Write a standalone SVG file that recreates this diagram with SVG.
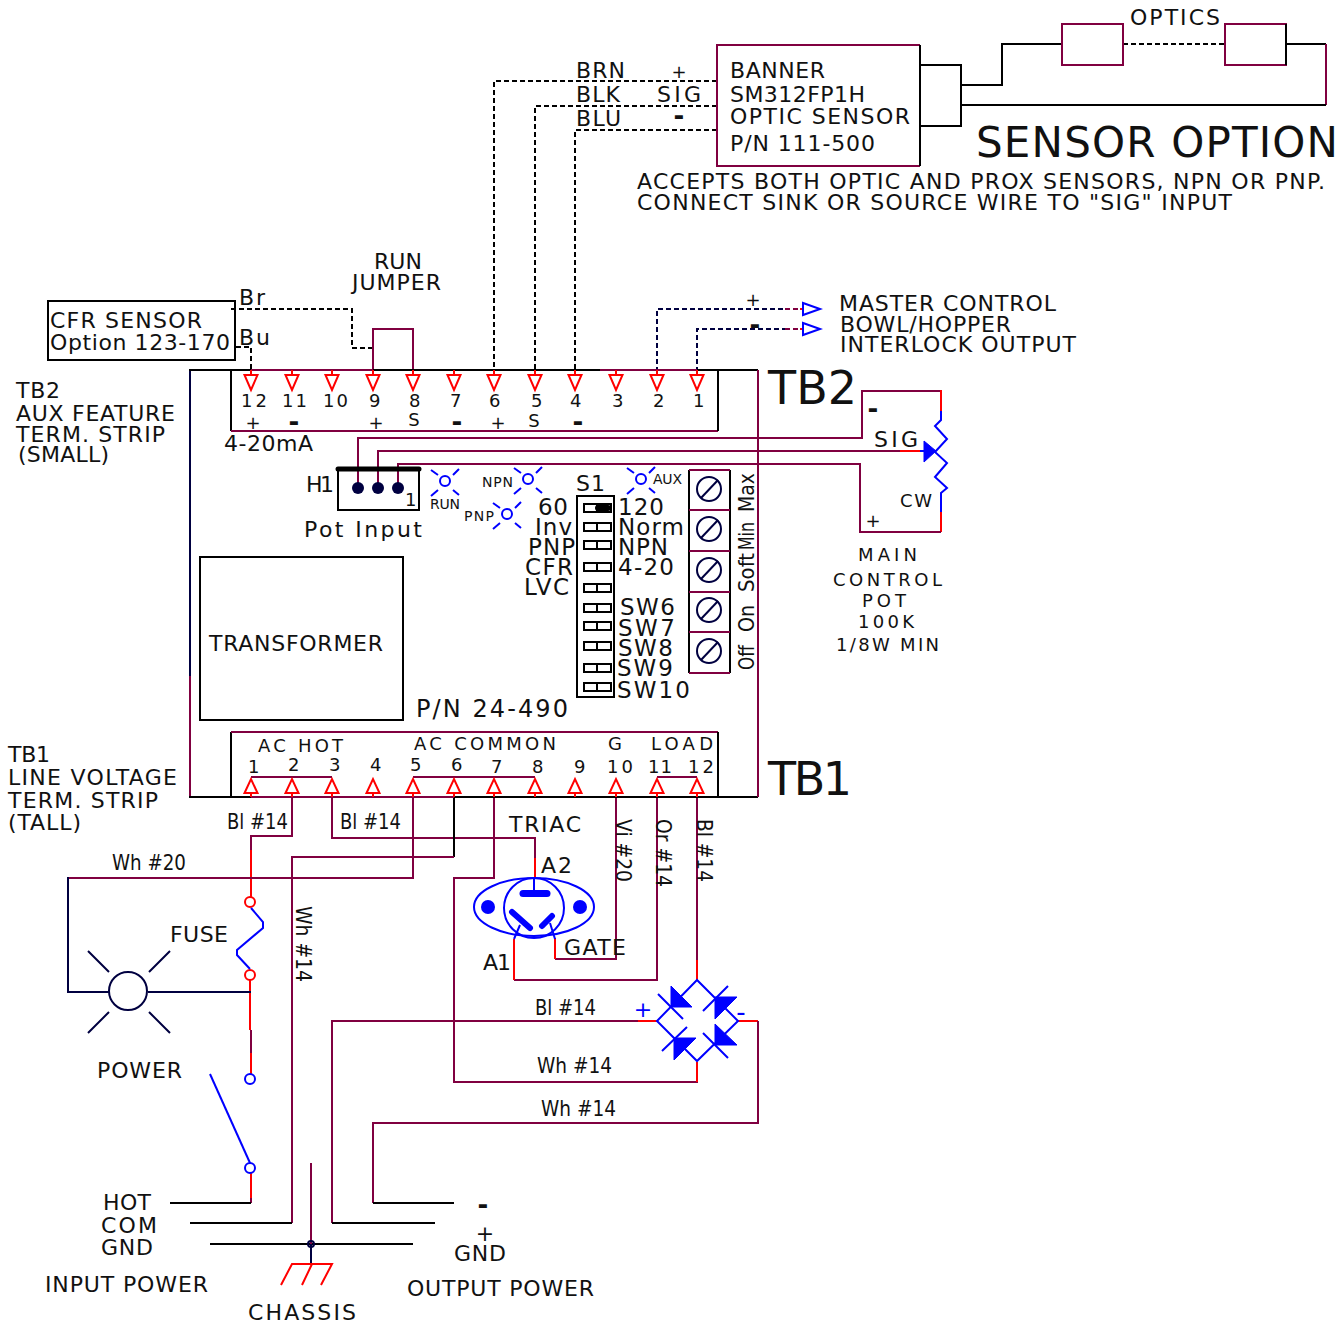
<svg xmlns="http://www.w3.org/2000/svg" width="1339" height="1324" viewBox="0 0 1339 1324">
<style>
text{font-family:"DejaVu Sans","Liberation Sans",sans-serif;font-size:22px;fill:#111}
.s14{font-size:14px}.s18{font-size:18px}.s23{font-size:23px}.s42{font-size:42px}.s45{font-size:46px}
.bd{font-weight:bold;font-size:26px}
.m,.k,.n,.r,.b,.kd,.nd,.md{fill:none;stroke-width:2}
.m,.md{stroke:#800040}.k,.kd{stroke:#000}.n,.nd{stroke:#000040}.r{stroke:#f00}.b{stroke:#00f}
.kd,.nd,.md{stroke-dasharray:5 3}
.bf{fill:#00f;stroke:#00f;stroke-width:1}
.led{fill:none;stroke:#00f;stroke-width:2}
</style>
<defs>
<path id="td" d="M-6.500 5H6.500L0 20ZM0 0V5" fill="#fff" stroke="#f00" stroke-width="2"/>
<path id="tu" d="M-6.500 -4H6.500L0 -18ZM0 0V-4" fill="#fff" stroke="#f00" stroke-width="2"/>
<g id="led"><circle r="5" class="led"/><path class="led" d="M-14 -11L-7 -6M14 -12L8 -6M-14 15L-7 9M14 14L8 9"/></g>
<g id="scr"><circle r="12" fill="none" stroke="#000040" stroke-width="2"/><path d="M-8 9L9 -9" stroke="#000040" stroke-width="2"/></g>
<g id="sw"><rect x="-13" y="-4" width="27" height="8" fill="#fff" stroke="#000" stroke-width="2"/><path d="M0 -4V4" stroke="#000" stroke-width="2"/></g>
<path id="ta" d="M0 -6V6L17 0Z" fill="#fff" stroke="#00f" stroke-width="2"/>
</defs>

<g id="connectors">
<path class="kd" d="M717 81H494V372M717 106H535V372M717 130H575V372"/>
<path class="k" d="M961 85H1002V44H1062"/>
<path class="kd" d="M1123 44H1225"/>
<path class="k" d="M1286 44H1326"/>
<path class="m" d="M1326 44V105"/>
<path class="k" d="M1326 105H961"/>
<path class="kd" d="M231 309H352V348H373"/>
<path class="kd" d="M236 347H251V372"/>
<path class="m" d="M373 370V329H413V370"/>
<path class="nd" d="M657 372V309H785M697 372V329H785"/>
<path class="md" d="M785 309H800M785 329H800"/>
<path class="r" d="M800 309H803M800 329H803"/>
<path class="m" d="M358 488V438H862V391H941"/>
<path class="r" d="M941 390V411"/>
<path class="b" d="M941 411V420L935 426L947 439L935 452L947 463L935 477L947 488L941 493V512"/>
<path class="r" d="M941 512V532"/>
<path class="m" d="M941 532H860V464H398V488"/>
<path class="m" d="M378 488V451H900"/>
<path class="r" d="M900 451H920"/>
<path class="b" d="M920 451H926"/>
<path class="m" d="M251 777H332M413 777H535M657 777H697"/>
<path class="m" d="M292 797V836H251V850"/>
<path class="r" d="M251 850V897M250 980V1030"/>
<path class="m" d="M251 1030V1053"/>
<path class="r" d="M251 1053V1074M251 1173V1198"/>
<path class="m" d="M251 1198V1203"/>
<path class="k" d="M251 1203H170"/>
<path class="m" d="M332 797V838H535V858"/>
<path class="r" d="M535 858V878"/>
<path class="m" d="M413 797V878H68"/>
<path class="n" d="M68 877V992H109M148 992H251"/>
<path class="k" d="M454 797V857"/>
<path class="m" d="M454 857H292V1223"/>
<path class="k" d="M292 1223H190"/>
<path class="m" d="M494 797V878H454V1082H697V1062"/>
<path class="r" d="M697 1082V1062"/>
<path class="m" d="M616 797V959H555"/>
<path class="r" d="M555 959V938"/>
<path class="m" d="M657 797V980H514"/>
<path class="r" d="M514 980V939"/>
<path class="m" d="M697 797V960"/>
<path class="r" d="M697 960V980"/>
<path class="r" d="M657 1021H638M738 1021H758"/>
<path class="m" d="M638 1021H332V1223"/>
<path class="k" d="M332 1223H435"/>
<path class="m" d="M758 1021V1123H373V1203"/>
<path class="k" d="M373 1203H454"/>
<path class="k" d="M210 1244H413"/>
<path class="m" d="M311 1163V1244"/>
<path class="n" d="M311 1244V1264"/>
</g>

<g id="sensor-option">
<rect x="1062" y="24" width="61" height="41" fill="none" class="m"/>
<rect x="1225" y="24" width="61" height="41" fill="none" class="m"/>
<path class="k" d="M1286 24V65"/>
<path class="k" d="M920 65H961V126H920"/>
<text x="1130" y="25" textLength="90">OPTICS</text>
<text x="976" y="157" class="s42" textLength="362">SENSOR OPTION</text>
<text x="637" y="189" textLength="688">ACCEPTS BOTH OPTIC AND PROX SENSORS, NPN OR PNP.</text>
<text x="637" y="210" textLength="595">CONNECT SINK OR SOURCE WIRE TO "SIG" INPUT</text>
</g>

<g id="banner-sensor">
<path class="m" d="M920 45H717V166H920"/>
<path class="k" d="M920 45V166"/>
<text x="730" y="78" textLength="95">BANNER</text>
<text x="730" y="102" textLength="135">SM312FP1H</text>
<text x="730" y="124" textLength="180">OPTIC SENSOR</text>
<text x="730" y="151" textLength="145">P/N 111-500</text>
<text x="576" y="78" textLength="49">BRN</text>
<text x="576" y="102" textLength="44">BLK</text>
<text x="576" y="126" textLength="45">BLU</text>
<text x="679" y="78" text-anchor="middle" class="s18">+</text>
<text x="657" y="102" textLength="44">SIG</text>
<text x="679" y="125" text-anchor="middle" class="bd">-</text>
</g>

<g id="cfr-sensor">
<rect x="48" y="301" width="187" height="59" fill="none" class="k"/>
<text x="50" y="328" textLength="152">CFR SENSOR</text>
<text x="50" y="350" textLength="180">Option 123-170</text>
<text x="239" y="305" textLength="26">Br</text>
<text x="239" y="345" textLength="31">Bu</text>
<text x="374" y="269" textLength="48">RUN</text>
<text x="352" y="290" textLength="89">JUMPER</text>
</g>

<g id="labels-left">
<text x="16" y="398" textLength="44">TB2</text>
<text x="16" y="421" textLength="159">AUX FEATURE</text>
<text x="16" y="442" textLength="149">TERM. STRIP</text>
<text x="18" y="462" textLength="91">(SMALL)</text>
<text x="8" y="762" textLength="42">TB1</text>
<text x="8" y="785" textLength="169">LINE VOLTAGE</text>
<text x="8" y="808" textLength="150">TERM. STRIP</text>
<text x="8" y="830" textLength="73">(TALL)</text>
</g>

<g id="master-output">
<use href="#ta" x="803" y="309"/>
<use href="#ta" x="803" y="329"/>
<text x="753" y="306" text-anchor="middle" class="s18">+</text>
<text x="755" y="334" text-anchor="middle" class="bd">-</text>
<text x="839" y="311" textLength="217">MASTER CONTROL</text>
<text x="840" y="332" textLength="171">BOWL/HOPPER</text>
<text x="840" y="352" textLength="236">INTERLOCK OUTPUT</text>
</g>

<g id="board">
<path class="n" d="M190 370V676"/>
<path class="m" d="M190 676V797"/>
<path class="k" d="M189 370H758"/>
<path class="m" d="M251 370H373M600 370H697"/>
<path class="k" d="M189 797H758"/>
<path class="m" d="M251 797H454"/>
<path class="m" d="M758 370V797"/>
<rect x="200" y="557" width="203" height="163" fill="none" stroke="#000" stroke-width="2"/>
<text x="209" y="651" textLength="174">TRANSFORMER</text>
<text x="416" y="717" style="font-size:24px" textLength="152">P/N 24-490</text>
<text x="768" y="404" class="s45" textLength="89">TB2</text>
<text x="768" y="795" class="s45" textLength="84">TB1</text>
</g>

<g id="tb2">
<path class="k" d="M231 370V431"/>
<path class="m" d="M231 431H718"/>
<path class="k" d="M718 370V431"/>
<use href="#td" x="251" y="370"/><use href="#td" x="292" y="370"/><use href="#td" x="332" y="370"/><use href="#td" x="373" y="370"/><use href="#td" x="413" y="370"/><use href="#td" x="454" y="370"/><use href="#td" x="494" y="370"/><use href="#td" x="535" y="370"/><use href="#td" x="575" y="370"/><use href="#td" x="616" y="370"/><use href="#td" x="657" y="370"/><use href="#td" x="697" y="370"/>
<text x="241" y="407" class="s18" textLength="26">12</text>
<text x="282" y="407" class="s18" textLength="25">11</text>
<text x="323" y="407" class="s18" textLength="25">10</text>
<text x="369" y="407" class="s18">9</text><text x="409" y="407" class="s18">8</text><text x="450" y="407" class="s18">7</text>
<text x="489" y="407" class="s18">6</text><text x="531" y="407" class="s18">5</text><text x="570" y="407" class="s18">4</text><text x="612" y="407" class="s18">3</text><text x="653" y="407" class="s18">2</text><text x="693" y="407" class="s18">1</text>
<text x="253" y="429" text-anchor="middle" class="s18">+</text>
<text x="294" y="431" text-anchor="middle" class="bd">-</text>
<text x="376" y="429" text-anchor="middle" class="s18">+</text>
<text x="414" y="426" text-anchor="middle" class="s18">S</text>
<text x="457" y="431" text-anchor="middle" class="bd">-</text>
<text x="498" y="429" text-anchor="middle" class="s18">+</text>
<text x="534" y="427" text-anchor="middle" class="s18">S</text>
<text x="578" y="431" text-anchor="middle" class="bd">-</text>
<text x="224" y="451" textLength="89">4-20mA</text>
</g>

<g id="h1">
<rect x="338" y="469" width="81" height="41" fill="none" stroke="#000" stroke-width="2"/>
<path d="M338 469H419" stroke="#000" stroke-width="5" stroke-linecap="round"/>
<circle cx="358" cy="488" r="6" fill="#000040"/><circle cx="378" cy="488" r="6" fill="#000040"/><circle cx="398" cy="488" r="6" fill="#000040"/>
<text x="405" y="506" class="s18">1</text>
<text x="306" y="492" textLength="28">H1</text>
<text x="304" y="537" textLength="118">Pot Input</text>
</g>

<g id="leds">
<use href="#led" x="445" y="481"/><use href="#led" x="528" y="479"/><use href="#led" x="507" y="514"/><use href="#led" x="641" y="479"/>
<text x="430" y="509" class="s14" textLength="30">RUN</text>
<text x="482" y="487" class="s14" textLength="31">NPN</text>
<text x="464" y="521" class="s14" textLength="30">PNP</text>
<text x="653" y="484" class="s14" textLength="29">AUX</text>
</g>

<g id="s1">
<rect x="577" y="496" width="37" height="201" fill="none" stroke="#000" stroke-width="2"/>
<use href="#sw" x="597" y="508"/><use href="#sw" x="597" y="527"/><use href="#sw" x="597" y="545"/><use href="#sw" x="597" y="567"/><use href="#sw" x="597" y="588"/><use href="#sw" x="597" y="608"/><use href="#sw" x="597" y="626"/><use href="#sw" x="597" y="646"/><use href="#sw" x="597" y="668"/><use href="#sw" x="597" y="687"/>
<rect x="595" y="505" width="16" height="6" rx="3" fill="#000"/>
<text x="576" y="491" textLength="29">S1</text>
<text x="538" y="515" class="s23" textLength="30">60</text>
<text x="535" y="535" class="s23" textLength="37">Inv</text>
<text x="528" y="555" class="s23" textLength="47">PNP</text>
<text x="525" y="575" class="s23" textLength="48">CFR</text>
<text x="524" y="595" class="s23" textLength="45">LVC</text>
<text x="618" y="515" class="s23" textLength="46">120</text>
<text x="618" y="535" class="s23" textLength="66">Norm</text>
<text x="618" y="555" class="s23" textLength="50">NPN</text>
<text x="618" y="575" class="s23" textLength="56">4-20</text>
<text x="620" y="615" class="s23" textLength="55">SW6</text>
<text x="618" y="636" class="s23" textLength="57">SW7</text>
<text x="618" y="656" class="s23" textLength="55">SW8</text>
<text x="617" y="676" class="s23" textLength="56">SW9</text>
<text x="617" y="698" class="s23" textLength="73">SW10</text>
</g>

<g id="screw-terminals">
<path class="k" d="M689 470V673M730 470V673"/>
<path class="m" d="M689 470H730M689 510H730M689 551H730M689 592H730M689 632H730M689 673H730"/>
<use href="#scr" x="709" y="489"/><use href="#scr" x="709" y="529"/><use href="#scr" x="709" y="570"/><use href="#scr" x="709" y="610"/><use href="#scr" x="709" y="651"/>
<text transform="translate(754 670) rotate(-90)" textLength="25" lengthAdjust="spacingAndGlyphs">Off</text>
<text transform="translate(754 632) rotate(-90)" textLength="27" lengthAdjust="spacingAndGlyphs">On</text>
<text transform="translate(754 592) rotate(-90)" textLength="39" lengthAdjust="spacingAndGlyphs">Soft</text>
<text transform="translate(754 550) rotate(-90)" textLength="28" lengthAdjust="spacingAndGlyphs">Min</text>
<text transform="translate(754 512) rotate(-90)" textLength="39" lengthAdjust="spacingAndGlyphs">Max</text>
</g>

<g id="main-pot">
<path class="bf" d="M924 441V462L936 451Z"/>
<text x="873" y="418" text-anchor="middle" class="bd">-</text>
<text x="874" y="447" textLength="44">SIG</text>
<text x="900" y="507" class="s18" textLength="32">CW</text>
<text x="873" y="527" text-anchor="middle" class="s18">+</text>
<text x="858" y="561" class="s18" textLength="59">MAIN</text>
<text x="833" y="586" class="s18" textLength="109">CONTROL</text>
<text x="862" y="607" class="s18" textLength="44">POT</text>
<text x="858" y="628" class="s18" textLength="56">100K</text>
<text x="836" y="651" class="s18" textLength="103">1/8W MIN</text>
</g>

<g id="tb1">
<path class="k" d="M231 797V732"/>
<path class="m" d="M231 732H718"/>
<path class="k" d="M718 732V797"/>
<use href="#tu" x="251" y="797"/><use href="#tu" x="292" y="797"/><use href="#tu" x="332" y="797"/><use href="#tu" x="373" y="797"/><use href="#tu" x="413" y="797"/><use href="#tu" x="454" y="797"/><use href="#tu" x="494" y="797"/><use href="#tu" x="535" y="797"/><use href="#tu" x="575" y="797"/><use href="#tu" x="616" y="797"/><use href="#tu" x="657" y="797"/><use href="#tu" x="697" y="797"/>
<text x="258" y="752" class="s18" textLength="85">AC HOT</text>
<text x="414" y="750" class="s18" textLength="142">AC COMMON</text>
<text x="608" y="750" class="s18">G</text>
<text x="651" y="750" class="s18" textLength="62">LOAD</text>
<text x="248" y="773" class="s18">1</text><text x="288" y="771" class="s18">2</text><text x="329" y="771" class="s18">3</text><text x="370" y="771" class="s18">4</text><text x="410" y="771" class="s18">5</text><text x="451" y="771" class="s18">6</text><text x="491" y="773" class="s18">7</text><text x="532" y="773" class="s18">8</text><text x="574" y="773" class="s18">9</text>
<text x="607" y="773" class="s18" textLength="26">10</text>
<text x="648" y="773" class="s18" textLength="24">11</text>
<text x="688" y="773" class="s18" textLength="26">12</text>
</g>

<g id="wire-labels">
<text x="227" y="829" textLength="61" lengthAdjust="spacingAndGlyphs">Bl #14</text>
<text x="340" y="829" textLength="61" lengthAdjust="spacingAndGlyphs">Bl #14</text>
<text x="112" y="870" textLength="74" lengthAdjust="spacingAndGlyphs">Wh #20</text>
<text x="535" y="1015" textLength="61" lengthAdjust="spacingAndGlyphs">Bl #14</text>
<text x="537" y="1073" textLength="75" lengthAdjust="spacingAndGlyphs">Wh #14</text>
<text x="541" y="1116" textLength="75" lengthAdjust="spacingAndGlyphs">Wh #14</text>
<text transform="translate(616 819) rotate(90)" textLength="63" lengthAdjust="spacingAndGlyphs">Vi #20</text>
<text transform="translate(656 819) rotate(90)" textLength="68" lengthAdjust="spacingAndGlyphs">Or #14</text>
<text transform="translate(697 819) rotate(90)" textLength="63" lengthAdjust="spacingAndGlyphs">Bl #14</text>
<text transform="translate(296 906) rotate(90)" textLength="76" lengthAdjust="spacingAndGlyphs">Wh #14</text>
</g>

<g id="triac">
<ellipse cx="534" cy="907" rx="60" ry="29" fill="none" class="b"/>
<circle cx="534" cy="908" r="30" fill="none" class="b"/>
<circle cx="488" cy="907" r="7" fill="#00f"/><circle cx="580" cy="907" r="7" fill="#00f"/>
<path d="M534 878V893" class="b"/>
<path d="M523 893.500H547" stroke="#00f" stroke-width="7" stroke-linecap="round"/>
<path d="M512 912L530 928M542 926L552 916" stroke="#00f" stroke-width="6" stroke-linecap="round"/>
<path d="M520 925L514 939M550 923L555 939" class="b"/>
<text x="509" y="832" textLength="72">TRIAC</text>
<text x="541" y="873" textLength="31">A2</text>
<text x="483" y="970" textLength="28">A1</text>
<text x="564" y="955" textLength="62">GATE</text>
</g>

<g id="bridge">
<path d="M697 980L657 1021L697 1061L738 1021Z" class="b" fill="none"/>
<path class="bf" d="M671 986L692 1007H671ZM715 997H737L715 1019ZM715 1024L737 1045H715ZM674 1038H696L674 1060Z"/>
<path class="b" d="M658 994L683 1019M703 1011L728 986M703 1033L728 1058M662 1051L687 1027"/>
<text x="643" y="1017" text-anchor="middle" style="fill:#00f">+</text>
<text x="741" y="1021" text-anchor="middle" class="bd" style="fill:#00f;font-weight:normal">-</text>
</g>

<g id="fuse">
<circle cx="250" cy="902" r="5" fill="#fff" class="r"/>
<circle cx="250" cy="975" r="5" fill="#fff" class="r"/>
<path class="b" d="M251 908L263 922V928L237 950V955L250 969"/>
<text x="170" y="942" textLength="58">FUSE</text>
</g>

<g id="power-lamp">
<circle cx="128" cy="991" r="19" fill="none" class="n"/>
<path class="n" d="M88 951L109 972M170 951L149 972M88 1033L109 1012M170 1033L149 1012"/>
<text x="97" y="1078" textLength="85">POWER</text>
</g>

<g id="switch">
<circle cx="250" cy="1079" r="5" fill="#fff" class="b"/>
<circle cx="250" cy="1168" r="5" fill="#fff" class="b"/>
<path class="b" d="M210 1074L250 1163"/>
</g>

<g id="chassis">
<circle cx="311" cy="1244" r="3" fill="none" class="n"/>
<path class="r" d="M281 1285L292 1264H332L321 1285M302 1285L312 1264"/>
<text x="248" y="1320" textLength="108">CHASSIS</text>
</g>

<g id="power-labels">
<text x="103" y="1210" textLength="48">HOT</text>
<text x="101" y="1233" textLength="56">COM</text>
<text x="101" y="1255" textLength="52">GND</text>
<text x="45" y="1292" textLength="163">INPUT POWER</text>
<text x="483" y="1214" text-anchor="middle" class="bd">-</text>
<text x="485" y="1241" text-anchor="middle">+</text>
<text x="454" y="1261" textLength="52">GND</text>
<text x="407" y="1296" textLength="187">OUTPUT POWER</text>
</g>
</svg>
